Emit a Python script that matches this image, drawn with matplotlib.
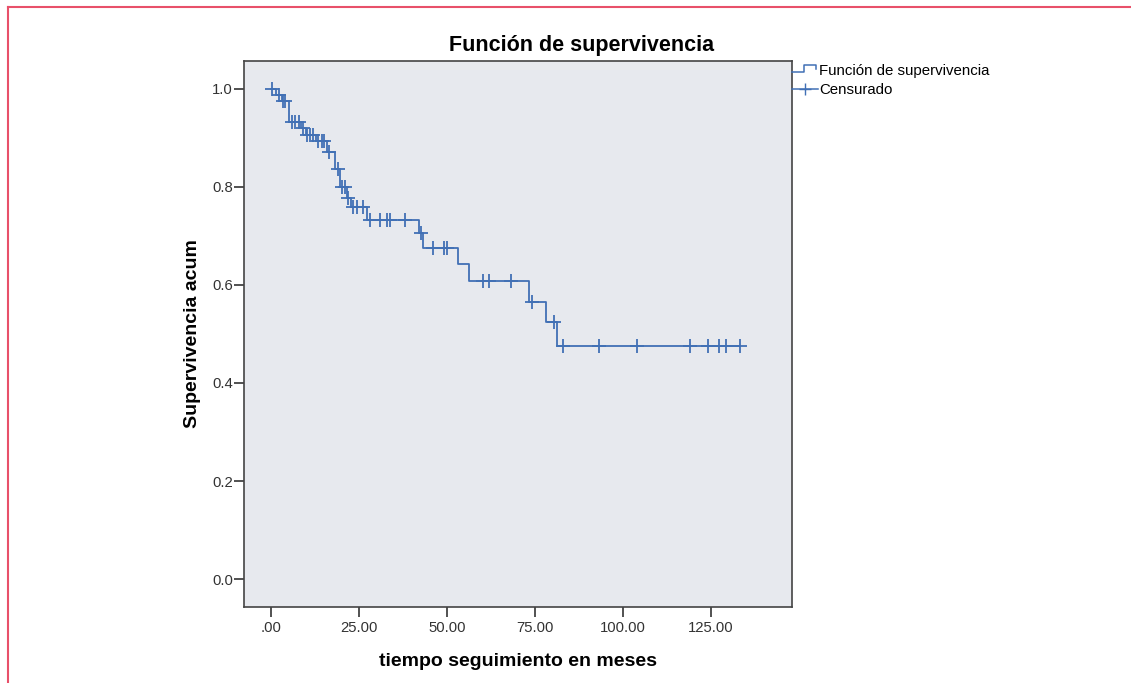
import matplotlib
matplotlib.use("Agg")
import matplotlib.pyplot as plt
from matplotlib.lines import Line2D
from matplotlib.legend_handler import HandlerBase

# step function: time where the curve drops, survival after the drop
step_times = [0.0, 1.5, 3.0, 5.2, 8.5, 9.8, 12.8, 16.0, 18.3, 19.7, 21.7, 22.6,
              27.2, 42.1, 43.2, 53.2, 56.3, 73.3, 78.1, 81.3, 133.2]
step_surv = [1.0, 0.988, 0.976, 0.933, 0.920, 0.906, 0.893, 0.872, 0.836, 0.799,
             0.778, 0.759, 0.733, 0.706, 0.676, 0.643, 0.608, 0.565, 0.524, 0.476, 0.476]

# censored observations
cens_times = [0.3, 2.3, 3.3, 4.0, 5.9, 6.8, 7.8, 9.0, 10.3, 11.1, 12.0, 13.4, 14.4,
              15.1, 16.4, 19.1, 20.1, 21.0, 22.0, 23.4, 24.3, 26.0, 28.1, 31.0, 32.9,
              33.8, 38.1, 42.6, 46.0, 49.2, 50.0, 60.2, 62.0, 68.2, 74.1, 80.4, 83.0,
              93.2, 104.0, 119.0, 124.1, 127.3, 129.3, 133.2]
cens_surv = [1.0, 0.988, 0.976, 0.976, 0.933, 0.933, 0.933, 0.920, 0.906, 0.906, 0.906,
             0.893, 0.893, 0.893, 0.872, 0.836, 0.799, 0.799, 0.778, 0.759, 0.759, 0.759,
             0.733, 0.733, 0.733, 0.733, 0.733, 0.706, 0.676, 0.676, 0.676, 0.608, 0.608,
             0.608, 0.565, 0.524, 0.476, 0.476, 0.476, 0.476, 0.476, 0.476, 0.476, 0.476]

x_ticks = [0, 25, 50, 75, 100, 125]
x_ticklabels = [".00", "25.00", "50.00", "75.00", "100.00", "125.00"]
y_ticks = [0.0, 0.2, 0.4, 0.6, 0.8, 1.0]

BLUE = "#4170b5"
plt.rcParams["font.family"] = ["Liberation Sans", "DejaVu Sans"]


class StepHandler(HandlerBase):
    # legend key drawn as a little step, like SPSS does
    def create_artists(self, legend, orig_handle, xdescent, ydescent, width, height, fontsize, trans):
        y0 = height / 2 - ydescent - 2
        y1 = height / 2 - ydescent + 3
        xs = [-xdescent, width * 0.45, width * 0.45, width * 0.95, width * 0.95]
        ys = [y0, y0, y1, y1, y1 - 3]
        line = Line2D(xs, ys, color=BLUE, lw=1.1, transform=trans)
        return [line]


fig = plt.figure(figsize=(11.31, 6.83), dpi=100)
ax = fig.add_axes([0.2157, 0.1113, 0.4845, 0.7994])
ax.set_facecolor("#e7e9ee")

ax.step(step_times, step_surv, where="post", color=BLUE, lw=1.3)
ax.plot(cens_times, cens_surv, linestyle="none", marker="+", markersize=9.5,
        markeredgewidth=1.3, color=BLUE)

ax.set_xlim(-7.7, 148)
ax.set_ylim(-0.057, 1.057)
ax.set_xticks(x_ticks)
ax.set_xticklabels(x_ticklabels)
ax.set_yticks(y_ticks)
ax.set_yticklabels(["%.1f" % v for v in y_ticks])
ax.tick_params(axis="both", length=7, width=1.2, color="#333333", labelsize=10.7,
               labelcolor="#333333")
ax.tick_params(axis="y", pad=1)
ax.tick_params(axis="x", pad=3)
for sp in ax.spines.values():
    sp.set_color("#444444")
    sp.set_linewidth(1.2)

ax.set_xlabel("tiempo seguimiento en meses", fontsize=14, fontweight="bold", labelpad=13)
ax.set_ylabel("Supervivencia acum", fontsize=14, fontweight="bold", labelpad=8)
fig.text(0.5146, 0.934, "Función de supervivencia", ha="center", va="center",
         fontsize=15.5, fontweight="bold")

h_surv = Line2D([], [], color=BLUE)
h_cens = Line2D([], [], color=BLUE, marker="+", markersize=9, lw=1.1)
fig.legend([h_surv, h_cens], ["Función de supervivencia", "Censurado"],
           handler_map={h_surv: StepHandler()},
           loc="upper left", bbox_to_anchor=(0.7003, 0.907), frameon=False,
           fontsize=10.8, handlelength=1.7, handletextpad=0.1, labelspacing=0.35,
           borderaxespad=0, borderpad=0)

# pink frame of the page
fig.add_artist(Line2D([0.007, 1.0], [0.9897, 0.9897], color="#e8506a", lw=1.5))
fig.add_artist(Line2D([0.007, 0.007], [0.0, 0.9897], color="#e8506a", lw=1.5))

fig.savefig("out.png", dpi=100)
